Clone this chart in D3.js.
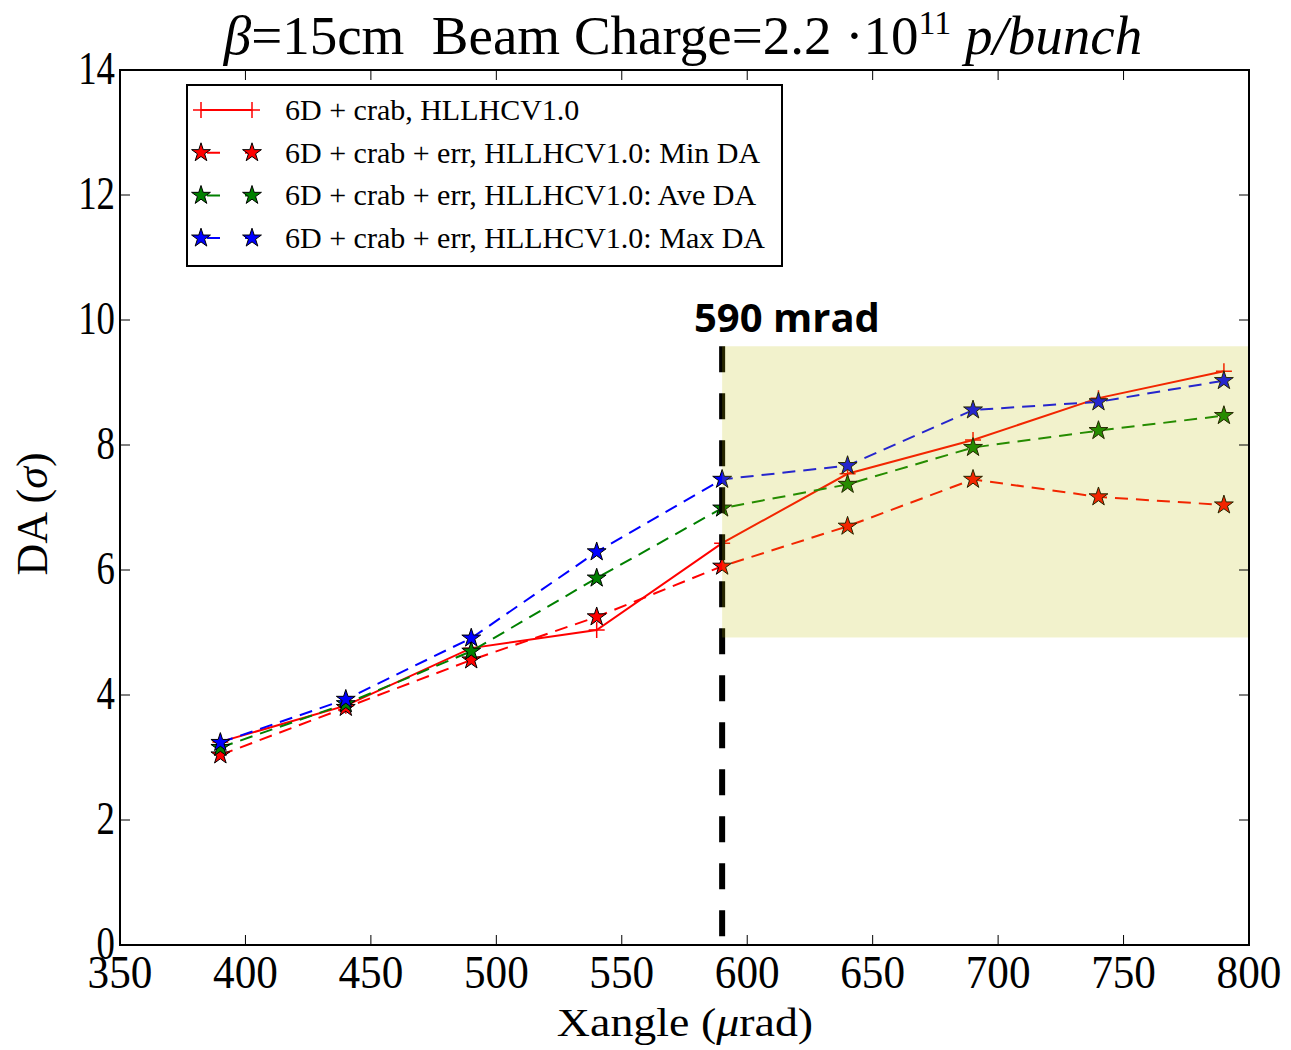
<!DOCTYPE html>
<html>
<head>
<meta charset="utf-8">
<script src="https://cdn.jsdelivr.net/npm/d3@7"></script>
<style>
  body { margin: 0; background: #fff; }
  svg text { font-family: "Liberation Serif", "Times New Roman", serif; white-space: pre; }
</style>
</head>
<body>
<svg id="chart" width="1291" height="1050"></svg>
<script>
var width = 1291
var height = 1050
var margin = { top: 70, right: 42, bottom: 105, left: 120 }

// data
var xangle = [390, 440, 490, 540, 590, 640, 690, 740, 790]
var daNoErr = [3.25, 3.83, 4.75, 5.04, 6.43, 7.54, 8.08, 8.75, 9.18]
var daMin = [3.04, 3.80, 4.56, 5.25, 6.06, 6.70, 7.45, 7.17, 7.04]
var daAve = [3.16, 3.86, 4.70, 5.87, 6.99, 7.37, 7.96, 8.23, 8.47]
var daMax = [3.24, 3.93, 4.91, 6.29, 7.45, 7.67, 8.56, 8.69, 9.03]
var xTicks = [350, 400, 450, 500, 550, 600, 650, 700, 750, 800]
var yTicks = [0, 2, 4, 6, 8, 10, 12, 14]
var cutX = 590
var bandY = [4.92, 9.58]

var series = [
    { name: "6D + crab, HLLHCV1.0", values: daNoErr, color: "#ff0000", dash: null, marker: "plus" },
    { name: "6D + crab + err, HLLHCV1.0: Min DA", values: daMin, color: "#ff0000", dash: "13,8", marker: "star" },
    { name: "6D + crab + err, HLLHCV1.0: Ave DA", values: daAve, color: "#008000", dash: "13,8", marker: "star" },
    { name: "6D + crab + err, HLLHCV1.0: Max DA", values: daMax, color: "#0000ff", dash: "13,8", marker: "star" }
]

var svg = d3.select("#chart")
var plotW = width - margin.left - margin.right
var plotH = height - margin.top - margin.bottom

var xScale = d3.scaleLinear().domain([350, 800]).range([margin.left, margin.left + plotW])
var yScale = d3.scaleLinear().domain([0, 14]).range([margin.top + plotH, margin.top])

var star = d3.symbol().type(d3.symbolStar).size(110)

function drawMarker(g, type, color) {
    if (type == "star") {
        g.append("path").attr("d", star)
            .attr("fill", color).attr("stroke", "#000").attr("stroke-width", 1)
    } else {
        g.append("path").attr("d", "M-8,0H8M0,-8V8")
            .attr("stroke", color).attr("stroke-width", 1.5).attr("fill", "none")
    }
}

// series lines
var line = d3.line()
    .x(function (d, i) { return xScale(xangle[i]) })
    .y(function (d) { return yScale(d) })

series.forEach(function (s) {
    svg.append("path")
        .attr("d", line(s.values))
        .attr("fill", "none")
        .attr("stroke", s.color)
        .attr("stroke-width", 2)
        .attr("stroke-dasharray", s.dash)
    s.values.forEach(function (v, i) {
        var g = svg.append("g").attr("transform", "translate(" + xScale(xangle[i]) + "," + yScale(v) + ")")
        drawMarker(g, s.marker, s.color)
    })
})

// vertical cut line
svg.append("line")
    .attr("x1", xScale(cutX)).attr("x2", xScale(cutX))
    .attr("y1", yScale(bandY[1])).attr("y2", yScale(0))
    .attr("stroke", "#000").attr("stroke-width", 6)
    .attr("stroke-dasharray", "26,21")

// shaded band (drawn over the marks, semi transparent)
svg.append("rect")
    .attr("x", xScale(cutX))
    .attr("y", yScale(bandY[1]))
    .attr("width", xScale(800) - xScale(cutX))
    .attr("height", yScale(bandY[0]) - yScale(bandY[1]))
    .attr("fill", "#bfbf00")
    .attr("fill-opacity", 0.2)

svg.append("text")
    .attr("x", 694).attr("y", 332)
    .style("font-family", "'Open Sans', 'DejaVu Sans', sans-serif")
    .style("font-weight", "bold")
    .style("font-size", "40px")
    .text(cutX + " mrad")

// frame
svg.append("rect")
    .attr("x", margin.left).attr("y", margin.top)
    .attr("width", plotW).attr("height", plotH)
    .attr("fill", "none").attr("stroke", "#000").attr("stroke-width", 2)

// inward ticks on all sides
var tickLen = 10
xTicks.forEach(function (t) {
    svg.append("line").attr("x1", xScale(t)).attr("x2", xScale(t))
        .attr("y1", yScale(0)).attr("y2", yScale(0) - tickLen).attr("stroke", "#000")
    svg.append("line").attr("x1", xScale(t)).attr("x2", xScale(t))
        .attr("y1", yScale(14)).attr("y2", yScale(14) + tickLen).attr("stroke", "#000")
    svg.append("text")
        .attr("transform", "translate(" + xScale(t) + "," + (yScale(0) + 43) + ") scale(0.92,1)")
        .attr("text-anchor", "middle")
        .style("font-size", "47px")
        .text(t)
})
yTicks.forEach(function (t) {
    svg.append("line").attr("x1", xScale(350)).attr("x2", xScale(350) + tickLen)
        .attr("y1", yScale(t)).attr("y2", yScale(t)).attr("stroke", "#000")
    svg.append("line").attr("x1", xScale(800)).attr("x2", xScale(800) - tickLen)
        .attr("y1", yScale(t)).attr("y2", yScale(t)).attr("stroke", "#000")
    svg.append("text")
        .attr("transform", "translate(" + (xScale(350) - 5) + "," + (yScale(t) + 14) + ") scale(0.8,1)")
        .attr("text-anchor", "end")
        .style("font-size", "46px")
        .text(t)
})

// axis titles
svg.append("text")
    .attr("transform", "translate(685,1036) scale(1.12,1)")
    .attr("text-anchor", "middle")
    .style("font-size", "41px")
    .html("Xangle (<tspan font-style='italic'>μ</tspan>rad)")

svg.append("text")
    .attr("transform", "translate(47,514) rotate(-90)")
    .attr("text-anchor", "middle")
    .style("font-size", "44px")
    .html("DA (<tspan font-style='italic'>σ</tspan>)")

// title
svg.append("text")
    .attr("x", 683).attr("y", 54)
    .attr("text-anchor", "middle")
    .style("font-size", "55px")
    .html("<tspan font-style='italic'>β</tspan>=15cm  Beam Charge=2.2 ·10<tspan dy='-20' font-size='34px'>11</tspan>" +
          "<tspan dy='20'> </tspan><tspan font-style='italic'>p/bunch</tspan>")

// legend
var legend = svg.append("g")
legend.append("rect")
    .attr("x", 187).attr("y", 85).attr("width", 595).attr("height", 181)
    .attr("fill", "#fff").attr("stroke", "#000").attr("stroke-width", 2)

series.forEach(function (s, i) {
    var ly = 110 + i * 42.7
    legend.append("line")
        .attr("x1", 201).attr("x2", 252).attr("y1", ly).attr("y2", ly)
        .attr("stroke", s.color).attr("stroke-width", 2)
        .attr("stroke-dasharray", s.dash ? "13,25" : null)
        .attr("stroke-dashoffset", s.dash ? -6 : null)
    ;[201, 252].forEach(function (mx) {
        var g = legend.append("g").attr("transform", "translate(" + mx + "," + ly + ")")
        drawMarker(g, s.marker, s.color)
    })
    legend.append("text")
        .attr("x", 285).attr("y", ly + 10)
        .style("font-size", "30px")
        .text(s.name)
})
</script>
</body>
</html>
